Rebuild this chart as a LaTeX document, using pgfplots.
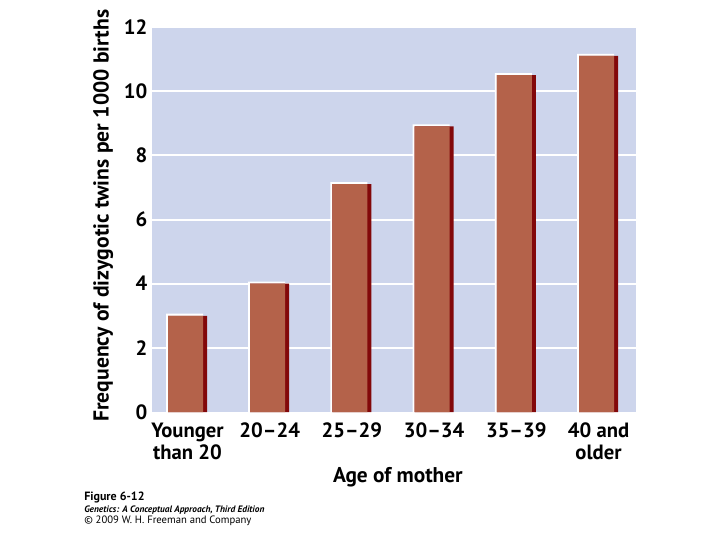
\documentclass[border=0pt]{standalone}
\usepackage{fontspec}
\setmainfont{PT Sans}
\usepackage{pgfplots}
\pgfplotsset{compat=1.18}

\definecolor{plotbg}{RGB}{205,213,236}
\definecolor{barbrown}{RGB}{180,98,74}
\definecolor{barshadow}{RGB}{130,8,10}

\begin{document}
\begin{tikzpicture}
\useasboundingbox[fill=white] (0,0) rectangle (540pt,405pt);
\begin{axis}[
    at={(114pt,96pt)}, anchor=south west,
    scale only axis, width=363pt, height=288.75pt,
    xmin=-0.432, xmax=5.456, ymin=0, ymax=12,
    axis background/.style={fill=plotbg},
    axis line style={draw=none},
    major tick length=0pt,
    ytick={2,4,...,12},
    extra y ticks={0}, extra y tick style={grid=none},
    ymajorgrids, grid style={white, line width=1.5pt},
    xtick={0,...,5},
    xticklabels={{Younger\\than 20},20–24,25–29,30–34,35–39,{40 and\\older}},
    xticklabel style={align=center, yshift=-4.5pt, font=\fontsize{15.5}{16.5}\selectfont\bfseries},
    yticklabel style={font=\fontsize{15.5}{16.5}\selectfont\bfseries},
    /pgf/number format/assume math mode=true,
    xlabel={Age of mother},
    ylabel={Frequency of dizygotic twins per 1000 births},
    every axis x label/.style={at={(axis description cs:0.508,-0.17)}, anchor=center, font=\fontsize{16}{16}\selectfont\bfseries},
    every axis y label/.style={at={(axis description cs:-0.101,0.51)}, anchor=center, rotate=90, font=\fontsize{16.2}{16.2}\selectfont\bfseries},
    ybar, 
]
% white highlight on top and left edge
\addplot[fill=white, draw=none, bar width=27.75pt, bar shift=-2.25pt]
    coordinates {(0,3.065)(1,4.065)(2,7.165)(3,8.965)(4,10.565)(5,11.165)};
% dark right-hand edge
\addplot[fill=barshadow, draw=none, bar width=29.25pt, bar shift=0pt]
    coordinates {(0,3.0)(1,4.0)(2,7.1)(3,8.9)(4,10.5)(5,11.1)};
% bar face
\addplot[fill=barbrown, draw=none, bar width=26.25pt, bar shift=-1.5pt]
    coordinates {(0,3.0)(1,4.0)(2,7.1)(3,8.9)(4,10.5)(5,11.1)};
\end{axis}
\node[anchor=base west, inner sep=0pt, font=\fontsize{9}{9}\selectfont\bfseries] at (63pt,30pt) {Figure 6-12};
\node[anchor=base west, inner sep=0pt, font=\fontsize{7}{7}\selectfont\bfseries\itshape] at (63pt,21pt) {Genetics: A Conceptual Approach, Third Edition};
\node[anchor=base west, inner sep=0pt, font=\fontsize{8}{8}\selectfont] at (63pt,12.75pt) {© 2009 W. H. Freeman and Company};
\end{tikzpicture}
\end{document}
